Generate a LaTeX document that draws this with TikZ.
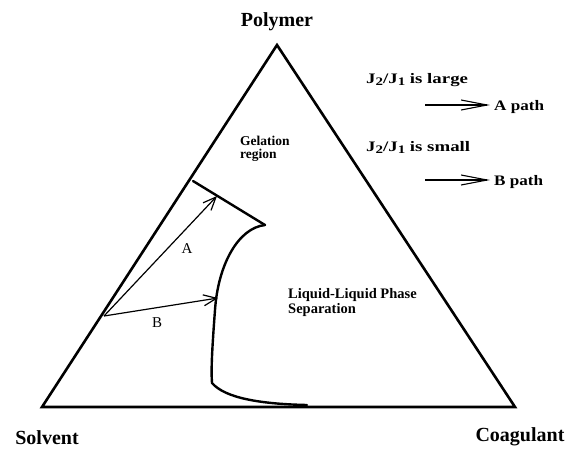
\documentclass[tikz,border=0pt]{standalone}
\usepackage{fontspec}
\setmainfont{Liberation Serif}
\newfontfamily\widefont[FakeStretch=1.18]{Liberation Serif}
\newfontfamily\widerfont[FakeStretch=1.3]{Liberation Serif}
\usetikzlibrary{arrows.meta}
\begin{document}
\begin{tikzpicture}[x=1pt,y=-1pt,
  corner/.style={font=\fontsize{20}{22}\selectfont\bfseries, inner sep=0pt},
  legend/.style={font=\widefont\fontsize{14.5}{16}\selectfont\bfseries, inner sep=0pt, anchor=base west},
  ratio/.style={font=\widerfont\fontsize{14.5}{16}\selectfont\bfseries, inner sep=0pt, anchor=base west},
  region/.style={font=\fontsize{14.5}{13}\selectfont\bfseries, inner sep=0pt, align=left, anchor=base west},
  smallregion/.style={region, font=\fontsize{13.5}{13}\selectfont\bfseries},
  pathlabel/.style={font=\fontsize{15}{17}\selectfont, inner sep=0pt},
  edge/.style={line width=2.6pt, line join=miter},
  bound/.style={line width=2.4pt, line cap=round},
  patharrow/.style={line width=1.2pt, -{Straight Barb[length=13pt,width=11pt,line width=1.2pt]}},
  legarrow/.style={line width=1.1pt, -{Straight Barb[length=26pt,width=10pt,line width=1.1pt]}}]
\useasboundingbox (0,0) rectangle (572,450);
% triangle
\coordinate (P) at (277,45);
\coordinate (S) at (42,407);
\coordinate (C) at (515,407);
\draw[edge] (P) -- (S) -- (C) -- cycle;
% corner labels
\node[corner] (lp) at (277,22) {Polymer};
\node[corner] (ls) at (47,438) {Solvent};
\node[corner] (lc) at (520,437) {Coagulant};
% gelation boundary and binodal curve
\coordinate (g1) at (193,181);
\coordinate (g2) at (265,225);
\coordinate (b1) at (307,405);
\draw[bound] (g1) -- (g2);
\draw[bound] (g2) .. controls (238,228) and (218,265) .. (215,310)
  .. controls (212,350) and (211,370) .. (212,383)
  .. controls (225,398) and (260,404) .. (b1);
% composition paths
\coordinate (O) at (104,316);
\coordinate (ea) at (217,196);
\coordinate (eb) at (218,298);
\draw[patharrow] (O) -- (ea);
\draw[patharrow] (O) -- (eb);
\node[pathlabel] (la) at (187,249) {A};
\node[pathlabel] (lb) at (157,323) {B};
% region labels
\node[smallregion] (gel) at (240,158) {Gelation\\region};
\node[region] (llps) at (288,313) {Liquid-Liquid Phase\\Separation};
% legend
\node[ratio] (t1) at (366,83) {J\raisebox{-2.5pt}{\fontsize{11.5}{12}\selectfont 2}/J\raisebox{-2.5pt}{\fontsize{11.5}{12}\selectfont 1} is large};
\node[ratio] (t2) at (366,151) {J\raisebox{-2.5pt}{\fontsize{11.5}{12}\selectfont 2}/J\raisebox{-2.5pt}{\fontsize{11.5}{12}\selectfont 1} is small};
\coordinate (a1) at (425,105);
\coordinate (a2) at (490,105);
\coordinate (c1) at (425,180);
\coordinate (c2) at (490,180);
\draw[legarrow] (a1) -- (a2);
\draw[legarrow] (c1) -- (c2);
\node[legend] (pa) at (494,110) {A path};
\node[legend] (pb) at (494,185) {B path};
\end{tikzpicture}
\end{document}
